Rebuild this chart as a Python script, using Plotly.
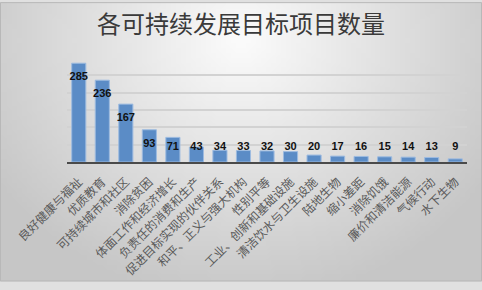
import base64, struct, zlib
import numpy as np
import plotly.graph_objects as go

categories = ["良好健康与福祉", "优质教育", "可持续城市和社区", "消除贫困", "体面工作和经济增长",
              "负责任的消费和生产", "促进目标实现的伙伴关系", "和平、正义与强大机构", "性别平等",
              "工业、创新和基础设施", "清洁饮水与卫生设施", "陆地生物", "缩小差距", "消除饥饿",
              "廉价和清洁能源", "气候行动", "水下生物"]
values = [285, 236, 167, 93, 71, 43, 34, 33, 32, 30, 20, 17, 16, 15, 14, 13, 9]
title_text = "各可持续发展目标项目数量"

W, H = 482, 290
L, R, T, B = 67, 15, 58, 124
pw, ph = W - L - R, H - T - B

# radial gray gradient background as a small PNG
gw, gh = 97, 58
xs = (np.arange(gw) + 0.5) * W / gw
ys = (np.arange(gh) + 0.5) * H / gh
X, Y = np.meshgrid(xs, ys)
d = np.sqrt(((X - 241) / 300) ** 2 + ((Y - 40) / 280) ** 2)
img = np.clip(252 - 55 * d, 198, 252).astype(np.uint8)
raw = b"".join(b"\x00" + img[r].tobytes() for r in range(gh))
def chunk(tag, data):
    c = struct.pack(">I", len(data)) + tag + data
    return c + struct.pack(">I", zlib.crc32(tag + data) & 0xffffffff)
png = b"\x89PNG\r\n\x1a\n" + chunk(b"IHDR", struct.pack(">IIBBBBB", gw, gh, 8, 0, 0, 0, 0)) \
      + chunk(b"IDAT", zlib.compress(raw, 9)) + chunk(b"IEND", b"")
src = "data:image/png;base64," + base64.b64encode(png).decode()

label_y = [max(v - 41, 42) for v in values]

fig = go.Figure()
fig.add_trace(go.Bar(
    x=categories, y=values, width=0.6,
    marker=dict(color="#5b8cc6", line=dict(color="#9dbbe0", width=1)),
    hoverinfo="skip",
))
fig.add_trace(go.Scatter(
    x=categories, y=label_y, mode="text", text=[str(v) for v in values],
    textposition="middle center",
    textfont=dict(family="Liberation Sans", size=11, color="#111111", weight="bold"),
    hoverinfo="skip",
))

fig.update_layout(
    width=W, height=H,
    margin=dict(l=L, r=R, t=T, b=B, pad=0),
    paper_bgcolor="#e0e0e0",
    plot_bgcolor="rgba(0,0,0,0)",
    showlegend=False,
    bargap=0.4,
    images=[dict(source=src, xref="paper", yref="paper",
                 x=-L / pw, y=1 + T / ph, sizex=W / pw, sizey=H / ph,
                 xanchor="left", yanchor="top", sizing="stretch", layer="below")],
    title=dict(text=title_text, x=0.5, xanchor="center", xref="container",
               y=1 - 25 / H, yanchor="middle", yref="container",
               font=dict(family="Noto Sans CJK SC", size=24, color="#3a3a3a")),
    xaxis=dict(showgrid=False, showline=True, linecolor="#4a4a4a", linewidth=2,
               tickangle=-45, ticks="", ticklabelstandoff=6,
               range=[-0.5, len(categories) - 0.5],
               tickfont=dict(family="Noto Sans CJK SC", size=12, color="#5a5a5a")),
    yaxis=dict(range=[0, 300], dtick=50, showgrid=True, gridcolor="#d2d2d2", gridwidth=1.5,
               showticklabels=False, zeroline=False, fixedrange=True),
    shapes=[dict(type="rect", xref="paper", yref="paper",
                 x0=-L / pw + 0.5 / pw, x1=1 + R / pw - 0.5 / pw,
                 y0=-B / ph + 0.5 / ph, y1=1 + T / ph - 0.5 / ph,
                 line=dict(color="#b8b8b8", width=1), layer="above")],
)

fig.write_html("out.html")
